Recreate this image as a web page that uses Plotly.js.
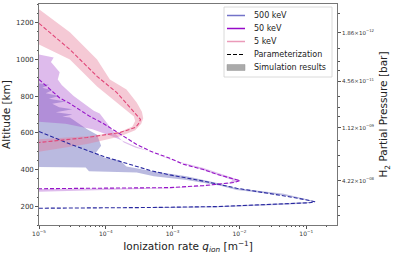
<!DOCTYPE html>
<html><head><meta charset="utf-8">
<script src="https://cdn.plot.ly/plotly-3.0.1.min.js"></script>
<style>html,body{margin:0;padding:0;background:#fff}#c{width:397px;height:257px}</style>
</head><body><div id="c"></div>
<script>
// ---- Parameterization curves (ionization rate [m^-1], altitude [km]) ----
const param500Rate = [1.0e-5, 2.9e-5, 9.3e-5, 2.9e-4, 4.7e-4, 9.1e-4, 2.9e-3, 9.1e-3, 2.9e-2, 6.3e-2, 0.112, 0.135, 0.112, 4.6e-2, 4.7e-3, 4.7e-4, 1.0e-4, 1.0e-5];
const param500Alt  = [608, 540, 472, 420, 395, 372, 338, 300, 272, 250, 233, 226, 221, 216, 200, 195, 193, 191];
const param50Rate  = [1.0e-5, 2.04e-5, 2.9e-5, 5.75e-5, 9.3e-5, 2.9e-4, 4.7e-4, 9.1e-4, 1.45e-3, 2.9e-3, 4.7e-3, 8.5e-3, 1.02e-2, 8.5e-3, 2.9e-3, 9.1e-4, 9.3e-5, 1.0e-5];
const param50Alt   = [890, 790, 760, 690, 650, 537, 500, 462, 430, 401, 374, 347, 341, 331, 314, 303, 298, 297];
const param5Rate   = [1.0e-5, 2.9e-5, 7.4e-5, 1.45e-4, 2.04e-4, 2.9e-4, 3.3e-4, 3.16e-4, 2.8e-4, 1.62e-4, 5.25e-5, 1.0e-5];
const param5Alt    = [1195, 1053, 907, 820, 760, 700, 673, 655, 630, 602, 575, 548];

// ---- Simulation result envelopes (closed outlines) ----
const sim500Rate = [1.0e-5, 1.41e-5, 1.12e-5, 1.58e-5, 1.26e-5, 2.0e-5, 1.41e-5, 2.5e-5, 1.58e-5, 2.0e-5, 3.16e-5, 1.78e-5, 3.16e-5, 2.24e-5, 2.9e-5, 5.25e-5, 7.4e-5, 8.5e-5, 7.0e-5, 9.3e-5, 1.62e-4, 2.04e-4, 5.25e-4, 1.62e-3, 5.0e-3, 9.1e-3, 4.6e-2, 0.1, 0.141, 0.1, 4.6e-2, 4.7e-3, 5.0e-4, 5.0e-4, 4.7e-3, 4.6e-2, 0.1, 0.126, 0.1, 4.6e-2, 9.1e-3, 5.0e-3, 1.62e-3, 5.25e-4, 2.9e-4, 5.6e-5, 5.0e-5, 1.0e-5];
const sim500Alt  = [870, 862, 845, 832, 815, 800, 785, 770, 758, 740, 728, 712, 700, 688, 684, 620, 590, 530, 490, 466, 452, 417, 390, 365, 325, 300, 270, 242, 227, 217, 210, 197, 192, 197, 202, 218, 223, 226, 236, 260, 290, 314, 345, 365, 385, 392, 412, 415];
const sim50Rate  = [1.0e-5, 1.66e-5, 1.51e-5, 1.74e-5, 2.04e-5, 1.91e-5, 2.19e-5, 3.3e-5, 4.7e-5, 6.6e-5, 8.1e-5, 1.05e-4, 1.32e-4, 1.86e-4, 2.8e-4, 4.1e-4, 9.1e-4, 2.9e-3, 6.3e-3, 9.5e-3, 1.05e-2, 7.9e-3, 2.9e-3, 9.1e-4, 9.3e-5, 1.0e-5, 1.0e-5, 9.3e-5, 9.1e-4, 2.9e-3, 7.1e-3, 7.9e-3, 2.9e-3, 9.1e-4, 2.9e-4, 1.26e-4, 6.3e-5, 2.5e-5, 1.0e-5];
const sim50Alt   = [1026, 1010, 985, 960, 930, 890, 860, 800, 760, 720, 705, 650, 605, 548, 520, 505, 455, 410, 370, 350, 342, 328, 310, 300, 290, 280, 296, 297, 302, 313, 330, 345, 396, 458, 525, 580, 620, 650, 660];
const sim5Rate   = [1.0e-5, 2.9e-5, 7.4e-5, 1.15e-4, 2.04e-4, 2.9e-4, 3.47e-4, 3.63e-4, 3.39e-4, 2.75e-4, 1.62e-4, 5.25e-5, 1.0e-5, 1.0e-5, 5.25e-5, 1.62e-4, 2.5e-4, 2.75e-4, 2.63e-4, 1.45e-4, 7.4e-5, 2.9e-5, 1.0e-5];
const sim5Alt    = [1271, 1146, 999, 890, 836, 765, 715, 680, 650, 615, 580, 540, 498, 565, 582, 605, 635, 665, 689, 765, 852, 999, 1080];

// ---- Axis ticks ----
const xTickVals = [1e-5, 1e-4, 1e-3, 1e-2, 1e-1];
const xTickText = ['10<sup>−5</sup>', '10<sup>−4</sup>', '10<sup>−3</sup>', '10<sup>−2</sup>', '10<sup>−1</sup>'];
const yTickVals = [200, 400, 600, 800, 1000, 1200];
const pressureTickAlt  = [1144, 881, 628, 341];
const pressureTickText = ['1.86×10<sup>−12</sup>', '4.56×10<sup>−11</sup>', '1.12×10<sup>−09</sup>', '4.22×10<sup>−08</sup>'];
const pressureMinorAlt = [1250, 1060, 990, 940, 800, 740, 690, 560, 480, 420, 260, 200, 150];

const labels = ['500 keV', '50 keV', '5 keV'];
const legendColors = ['rgb(115,115,200)', 'rgb(150,10,200)', 'rgb(235,155,185)'];
const dashColors = ['rgb(40,40,160)', 'rgb(150,20,200)', 'rgb(225,70,120)'];
const fillColors = ['rgba(90,90,180,0.42)', 'rgba(160,60,200,0.35)', 'rgba(230,120,150,0.4)'];

const simX = [sim500Rate, sim50Rate, sim5Rate];
const simY = [sim500Alt, sim50Alt, sim5Alt];
const parX = [param500Rate, param50Rate, param5Rate];
const parY = [param500Alt, param50Alt, param5Alt];

const xMinor = [];
for (let e = -5; e <= -1; e++) for (let m = 2; m <= 9; m++) xMinor.push(m * Math.pow(10, e));

const traces = [];
for (let i = 0; i < 3; i++) {
  traces.push({x: simX[i], y: simY[i], type: 'scatter', mode: 'lines', fill: 'toself',
    fillcolor: fillColors[i], line: {width: 0}, showlegend: false, hoverinfo: 'skip'});
}
for (let i = 0; i < 3; i++) {
  traces.push({x: parX[i], y: parY[i], type: 'scatter', mode: 'lines',
    line: {color: dashColors[i], width: 1.1, dash: '4px,2px'}, showlegend: false});
}
traces.push({x: [1e-3], y: [700], yaxis: 'y2', type: 'scatter', mode: 'markers', marker: {opacity: 0}, showlegend: false, hoverinfo: 'skip'});

// ---- Manual legend (pixel layout converted to paper coords) ----
const L = 39, T = 4, W = 298, H = 221;
const px = v => (v - L) / W;
const py = v => (T + H - v) / H;
const shapes = [];
const annotations = [];
shapes.push({type: 'rect', xref: 'paper', yref: 'paper', x0: px(224), x1: px(332), y0: py(7), y1: py(77),
  line: {color: '#d0d0d0', width: 0.8}, fillcolor: 'rgba(255,255,255,0.85)', layer: 'above'});
const legendText = labels.concat(['Parameterization', 'Simulation results']);
legendText.forEach((t, k) => {
  const yy = 15.5 + 13 * k;
  if (k < 3) {
    shapes.push({type: 'line', xref: 'paper', yref: 'paper', x0: px(227), x1: px(245), y0: py(yy), y1: py(yy),
      line: {color: legendColors[k], width: 1.5}, layer: 'above'});
  } else if (k === 3) {
    shapes.push({type: 'line', xref: 'paper', yref: 'paper', x0: px(227), x1: px(245), y0: py(yy), y1: py(yy),
      line: {color: '#000', width: 1.1, dash: '4px,2px'}, layer: 'above'});
  } else {
    shapes.push({type: 'rect', xref: 'paper', yref: 'paper', x0: px(227), x1: px(245), y0: py(yy - 3), y1: py(yy + 3),
      line: {color: 'rgba(150,150,150,1)', width: 0.5}, fillcolor: 'rgba(170,170,170,1)', layer: 'above'});
  }
  annotations.push({xref: 'paper', yref: 'paper', x: px(252), y: py(yy), text: t, showarrow: false,
    xanchor: 'left', yanchor: 'middle', font: {family: 'DejaVu Sans', size: 8, color: '#222'}});
});

const tickFont = {family: 'DejaVu Sans', size: 7, color: '#333'};
const layout = {
  width: 397, height: 257,
  margin: {l: L, r: 397 - L - W, t: T, b: 257 - T - H},
  paper_bgcolor: '#fff', plot_bgcolor: '#fff',
  showlegend: false,
  font: {family: 'DejaVu Sans', color: '#222'},
  shapes: shapes, annotations: annotations,
  xaxis: {type: 'log', range: [-5, -0.54], tickmode: 'array', tickvals: xTickVals, ticktext: xTickText,
    tickfont: {family: 'DejaVu Sans', size: 6, color: '#333'},
    ticks: 'outside', ticklen: 3, tickcolor: '#555', showgrid: false, zeroline: false,
    showline: true, linecolor: '#555', linewidth: 0.8, mirror: true,
    minor: {tickmode: 'array', tickvals: xMinor, ticks: 'outside', ticklen: 1.5, tickcolor: '#555', showgrid: false},
    title: {text: 'Ionization rate <i>q</i><sub><i>ion</i></sub> [m<sup>−1</sup>]', font: {family: 'DejaVu Sans', size: 10.5, color: '#222'}, standoff: 6}},
  yaxis: {range: [100, 1300], tickmode: 'array', tickvals: yTickVals, tickfont: tickFont,
    ticks: 'outside', ticklen: 3, tickcolor: '#555', showgrid: false, zeroline: false,
    showline: true, linecolor: '#555', linewidth: 0.8, mirror: true,
    minor: {dtick: 50, ticks: 'outside', ticklen: 1.5, tickcolor: '#555', showgrid: false},
    title: {text: 'Altitude [km]', font: {family: 'DejaVu Sans', size: 10.5, color: '#222'}, standoff: 4}},
  yaxis2: {overlaying: 'y', side: 'right', range: [100, 1300], tickmode: 'array',
    tickvals: pressureTickAlt, ticktext: pressureTickText,
    tickfont: {family: 'DejaVu Sans', size: 5.5, color: '#333'},
    ticks: 'outside', ticklen: 3, tickcolor: '#555', showgrid: false, zeroline: false, showline: false,
    minor: {tickmode: 'array', tickvals: pressureMinorAlt, ticks: 'outside', ticklen: 1.5, tickcolor: '#555', showgrid: false},
    title: {text: 'H<sub>2</sub> Partial Pressure [bar]', font: {family: 'DejaVu Sans', size: 10.5, color: '#222'}, standoff: 6}}
};
Plotly.newPlot('c', traces, layout, {staticPlot: true, displayModeBar: false});
</script></body></html>
